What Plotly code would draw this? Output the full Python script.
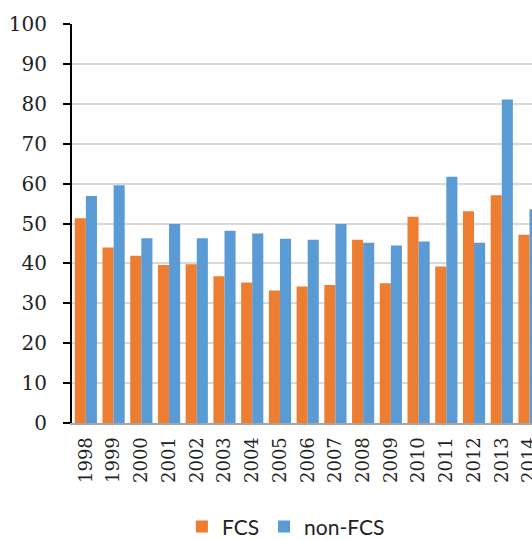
import plotly.graph_objects as go

years = [str(y) for y in range(1998, 2015)]
fcs = [51.3, 44.0, 41.9, 39.6, 39.8, 36.8, 35.2, 33.2, 34.2, 34.6, 45.9, 35.0, 51.7, 39.2, 53.1, 57.1, 47.2]
non_fcs = [56.9, 59.6, 46.3, 49.9, 46.3, 48.2, 47.5, 46.2, 45.9, 49.9, 45.2, 44.5, 45.5, 61.7, 45.2, 81.1, 53.6]
y_ticks = list(range(0, 101, 10))

fig = go.Figure()
fig.add_trace(go.Bar(x=years, y=fcs, name="FCS", marker_color="#ED7D31", marker_line_width=0))
fig.add_trace(go.Bar(x=years, y=non_fcs, name="non-FCS", marker_color="#5B9BD5", marker_line_width=0))

fig.update_layout(
    width=532, height=540,
    margin=dict(l=72, r=0, t=24, b=117, autoexpand=False),
    paper_bgcolor="white", plot_bgcolor="white",
    barmode="group", bargap=0.2, bargroupgap=0,
    showlegend=True,
    legend=dict(orientation="h", x=0.465, xanchor="center", y=-0.26, yanchor="middle",
                font=dict(family="Lato", size=21, color="#222"), itemclick=False),
    xaxis=dict(type="category", range=[-0.5, 16.09], tickangle=-90, automargin=False,
               tickfont=dict(family="DejaVu Serif", size=18, color="#222"),
               showline=True, linecolor="#a6a6a6", linewidth=2,
               ticks="", showgrid=False, ticklabelstandoff=5),
    yaxis=dict(range=[0, 100], tickvals=y_ticks, ticks="outside", ticklen=7, tickwidth=2,
               tickcolor="black", showline=True, linecolor="black", linewidth=2, automargin=False,
               tickfont=dict(family="DejaVu Serif", size=20, color="#222"),
               showgrid=True, gridcolor="#d9d9d9", gridwidth=2, zeroline=False,
               ticklabelstandoff=12),
)

fig.write_html("out.html", config={"displayModeBar": False},
               post_script="document.body.style.margin='0';document.body.style.overflow='hidden';")
